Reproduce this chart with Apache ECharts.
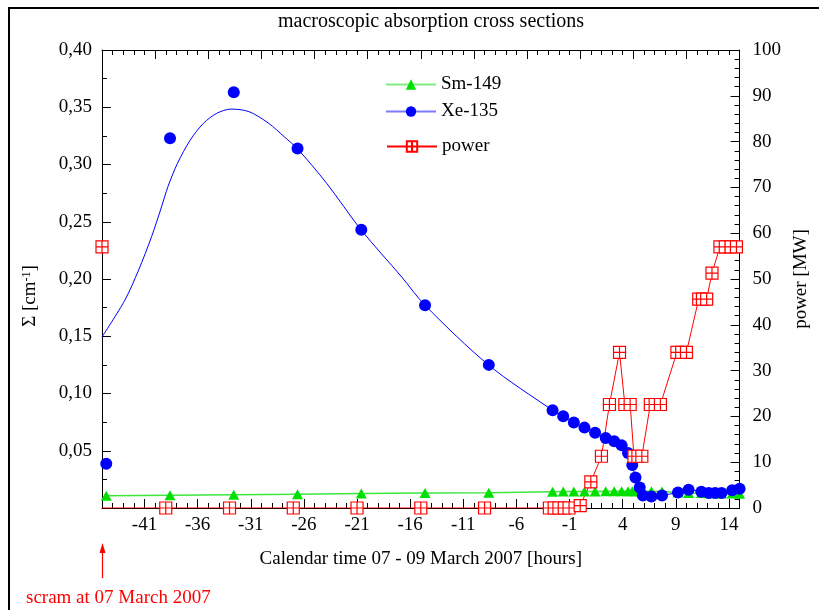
<!DOCTYPE html>
<html>
<head>
<meta charset="utf-8">
<script src="https://cdn.jsdelivr.net/npm/echarts@6/dist/echarts.min.js"></script>
<style>
  html, body { margin: 0; padding: 0; background: #fff; }
  #chart { width: 819px; height: 610px; }
</style>
</head>
<body>
<div id="chart"></div>
<script>
// Sampling times [hours] of the cross-section evaluations
const sampleHours = [-44.6, -38.6, -32.6, -26.6, -20.6, -14.6, -8.6, -2.6, -1.6, -0.6,
  0.4, 1.4, 2.4, 3.2, 3.9, 4.5, 4.9, 5.2, 5.6, 5.9,
  6.7, 7.7, 9.2, 10.2, 11.4, 12.1, 12.7, 13.3, 14.3, 15.0];

// Xe-135 macroscopic absorption cross section [1/cm]
const xe135 = [0.0387, 0.323, 0.363, 0.314, 0.243, 0.177, 0.125, 0.0853, 0.0801, 0.0746,
  0.0702, 0.0658, 0.0611, 0.0582, 0.0547, 0.048, 0.0375, 0.0267, 0.018, 0.011,
  0.0101, 0.011, 0.0136, 0.016, 0.0142, 0.013, 0.013, 0.013, 0.0154, 0.0169];

// Sm-149 macroscopic absorption cross section [1/cm]
const sm149 = [0.0106, 0.0112, 0.0116, 0.0121, 0.0126, 0.0130, 0.0133, 0.0143, 0.0144, 0.0144,
  0.0145, 0.0145, 0.0146, 0.0146, 0.0146, 0.0146, 0.0146, 0.0146, 0.0146, 0.0146,
  0.0146, 0.0145, 0.0135, 0.0132, 0.0130, 0.0129, 0.0128, 0.0127, 0.0126, 0.0125];

// Xe-135 fitted trend curve
const xeFitHours = [-45.0, -42.85, -41.56, -40.34, -39.4, -38.8, -37.9, -36.7, -35.45, -34.2,
  -32.86, -31.18, -29.35, -27.8, -26.6, -23.85, -20.6, -16.8, -14.6, -8.6,
  -2.6, -1.6, -0.6, 0.4, 1.4, 2.4, 3.2, 3.9, 4.5, 4.9,
  5.2, 5.6, 5.9, 6.7, 7.7, 9.2, 10.2, 11.4, 12.1, 12.7,
  13.3, 14.3, 15.0];
const xeFitValues = [0.1494, 0.1815, 0.2077, 0.2368, 0.263, 0.2805, 0.301, 0.3213, 0.336, 0.3447,
  0.3484, 0.3462, 0.3362, 0.3238, 0.3137, 0.2835, 0.2427, 0.2018, 0.177, 0.1247,
  0.0853, 0.0801, 0.0746, 0.0702, 0.0658, 0.0611, 0.0582, 0.0547, 0.048, 0.0375,
  0.0267, 0.018, 0.011, 0.0101, 0.011, 0.0136, 0.016, 0.0142, 0.013, 0.013,
  0.013, 0.0154, 0.0169];

// Reactor power [MW]
const powerHours = [-45, -45, -39, -33, -27, -21, -15, -9, -2.9, -2.45,
  -2.0, -1.5, -1.05, 0.0, 1.0, 2.0, 2.75, 3.7, 4.2, 4.7,
  5.06, 5.43, 5.8, 6.6, 7.05, 7.55, 9.1, 9.55, 10.0, 11.15,
  11.5, 11.9, 12.4, 13.15, 13.65, 14.2, 14.7];
const powerMW = [57, 0, 0, 0, 0, 0, 0, 0, 0, 0,
  0, 0, 0, 0.5, 5.7, 11.3, 22.6, 34, 22.6, 22.6,
  11.3, 11.3, 11.3, 22.6, 22.6, 22.6, 34, 34, 34, 45.6,
  45.6, 45.6, 51.3, 57, 57, 57, 57];

// Labelled hours on the time axis
const hourTicks = [-41, -36, -31, -26, -21, -16, -11, -6, -1, 4, 9, 14];

const FONT = "'Liberation Serif', 'Times New Roman', serif";
const pair = (xs, ys) => xs.map((x, i) => [x, ys[i]]);

// the pre-scram reading stands alone; the zero-power trace starts at the axis without a marker
const powerData = pair(powerHours, powerMW);
powerData.splice(1, 0, [-45, '-']);
powerData[2] = { value: powerData[2], symbol: 'none' };

const crossedSquare = 'path://M0,0H12V12H0ZM6,0V12M0,6H12';
const labelStyle = { fontFamily: FONT, fontSize: 19, color: '#000' };
const frameLine = { onZero: false, lineStyle: { color: '#000', width: 1 } };

const chart = echarts.init(document.getElementById('chart'), null, { renderer: 'canvas' });

chart.setOption({
  animation: false,
  backgroundColor: '#fff',
  title: {
    text: 'macroscopic absorption cross sections',
    left: 273, top: 7,
    textStyle: { fontFamily: FONT, fontSize: 20, fontWeight: 'normal', color: '#000' }
  },
  grid: { left: 102, right: 62, top: 50, bottom: 102, containLabel: false },
  legend: [
    {
      orient: 'vertical', left: 380, top: 70,
      itemWidth: 50, itemHeight: 13, itemGap: 8,
      textStyle: labelStyle,
      data: [
        { name: 'Sm-149', lineStyle: { color: '#80ee80', width: 2, opacity: 1 } },
        { name: 'Xe-135', lineStyle: { color: '#7b7bff', width: 2, opacity: 1 } }
      ]
    },
    {
      orient: 'vertical', left: 381, top: 132,
      itemWidth: 50, itemHeight: 13,
      textStyle: labelStyle,
      data: [{ name: 'power' }]
    }
  ],
  xAxis: [
    {
      type: 'value', position: 'bottom', min: -45, max: 15, interval: 1,
      axisLine: frameLine,
      axisTick: { inside: true, length: 5, lineStyle: { color: '#000' } },
      axisLabel: { customValues: hourTicks, margin: 8, fontFamily: FONT, fontSize: 19, color: '#000' },
      splitLine: { show: false },
      name: 'Calendar time 07 - 09 March 2007 [hours]',
      nameLocation: 'middle', nameGap: 42,
      nameTextStyle: labelStyle
    },
    {
      type: 'value', position: 'bottom', min: -45, max: 15, interval: 1,
      axisLine: { show: false, onZero: false },
      axisTick: { inside: true, length: 9, customValues: hourTicks, lineStyle: { color: '#000' } },
      axisLabel: { show: false },
      splitLine: { show: false }
    },
    {
      type: 'value', position: 'top', min: -45, max: 15, interval: 5,
      axisLine: frameLine,
      axisTick: { inside: true, length: 9, lineStyle: { color: '#000' } },
      minorTick: { show: true, splitNumber: 5, length: 5, lineStyle: { color: '#000' } },
      axisLabel: { show: false },
      splitLine: { show: false }
    }
  ],
  yAxis: [
    {
      type: 'value', position: 'left', min: 0, max: 0.4, interval: 0.05,
      axisLine: Object.assign({ show: true }, frameLine),
      axisTick: { show: true, inside: true, length: 9, lineStyle: { color: '#000' } },
      minorTick: { show: true, splitNumber: 2, length: 5, lineStyle: { color: '#000' } },
      axisLabel: {
        margin: 10, fontFamily: FONT, fontSize: 19, color: '#000',
        formatter: v => (v === 0 ? '' : v.toFixed(2).replace('.', ','))
      },
      splitLine: { show: false }
    },
    {
      type: 'value', position: 'right', min: 0, max: 100, interval: 10,
      axisLine: Object.assign({ show: true }, frameLine),
      axisTick: { show: true, inside: true, length: 9, lineStyle: { color: '#000' } },
      minorTick: { show: true, splitNumber: 5, length: 5, lineStyle: { color: '#000' } },
      axisLabel: { margin: 13, fontFamily: FONT, fontSize: 19, color: '#000' },
      splitLine: { show: false },
      name: 'power [MW]', nameLocation: 'middle', nameGap: 42, nameRotate: 90,
      nameTextStyle: labelStyle
    }
  ],
  series: [
    {
      name: 'Sm-149', type: 'line', xAxisIndex: 0, yAxisIndex: 0,
      data: pair(sampleHours, sm149),
      symbol: 'triangle', symbolSize: [11, 10],
      itemStyle: { color: '#00e000' },
      lineStyle: { color: '#3ce63c', width: 1.5 }
    },
    {
      name: 'Xe-135 fit', type: 'line', xAxisIndex: 0, yAxisIndex: 0,
      data: pair(xeFitHours, xeFitValues),
      showSymbol: false, symbol: 'none',
      smooth: 0.3,
      lineStyle: { color: '#0000ff', width: 1 }
    },
    {
      name: 'Xe-135', type: 'line', xAxisIndex: 0, yAxisIndex: 0,
      data: pair(sampleHours, xe135),
      symbol: 'circle', symbolSize: 12,
      itemStyle: { color: '#0000ff' },
      lineStyle: { color: '#0000ff', opacity: 0 }
    },
    {
      name: 'power', type: 'line', xAxisIndex: 0, yAxisIndex: 1,
      data: powerData,
      symbol: crossedSquare, symbolSize: 12,
      itemStyle: { color: '#fff', borderColor: '#ff0000', borderWidth: 1.2 },
      lineStyle: { color: '#ff0000', width: 1 }
    }
  ],
  graphic: [
    {
      type: 'rect', silent: true,
      shape: { x: 9, y: 8, width: 860, height: 660 },
      style: { fill: 'none', stroke: '#000', lineWidth: 2 }
    },
    {
      type: 'text', silent: true, x: 30, y: 296, rotation: Math.PI / 2,
      style: {
        text: 'Σ [cm{sup|-1}]',
        fontFamily: FONT, fontSize: 19, fill: '#000',
        align: 'center', verticalAlign: 'middle',
        rich: { sup: { fontFamily: FONT, fontSize: 12, verticalAlign: 'top', fill: '#000' } }
      }
    },
    {
      type: 'line', silent: true,
      shape: { x1: 102.5, y1: 578, x2: 102.5, y2: 551 },
      style: { stroke: '#ff0000', lineWidth: 1.2 }
    },
    {
      type: 'polygon', silent: true,
      shape: { points: [[102.5, 543], [99.5, 553], [105.5, 553]] },
      style: { fill: '#ff0000' }
    },
    {
      type: 'text', silent: true, x: 26, y: 598,
      style: {
        text: 'scram at 07 March 2007',
        fontFamily: FONT, fontSize: 19, fill: '#ff0000', verticalAlign: 'middle'
      }
    }
  ]
});
</script>
</body>
</html>
